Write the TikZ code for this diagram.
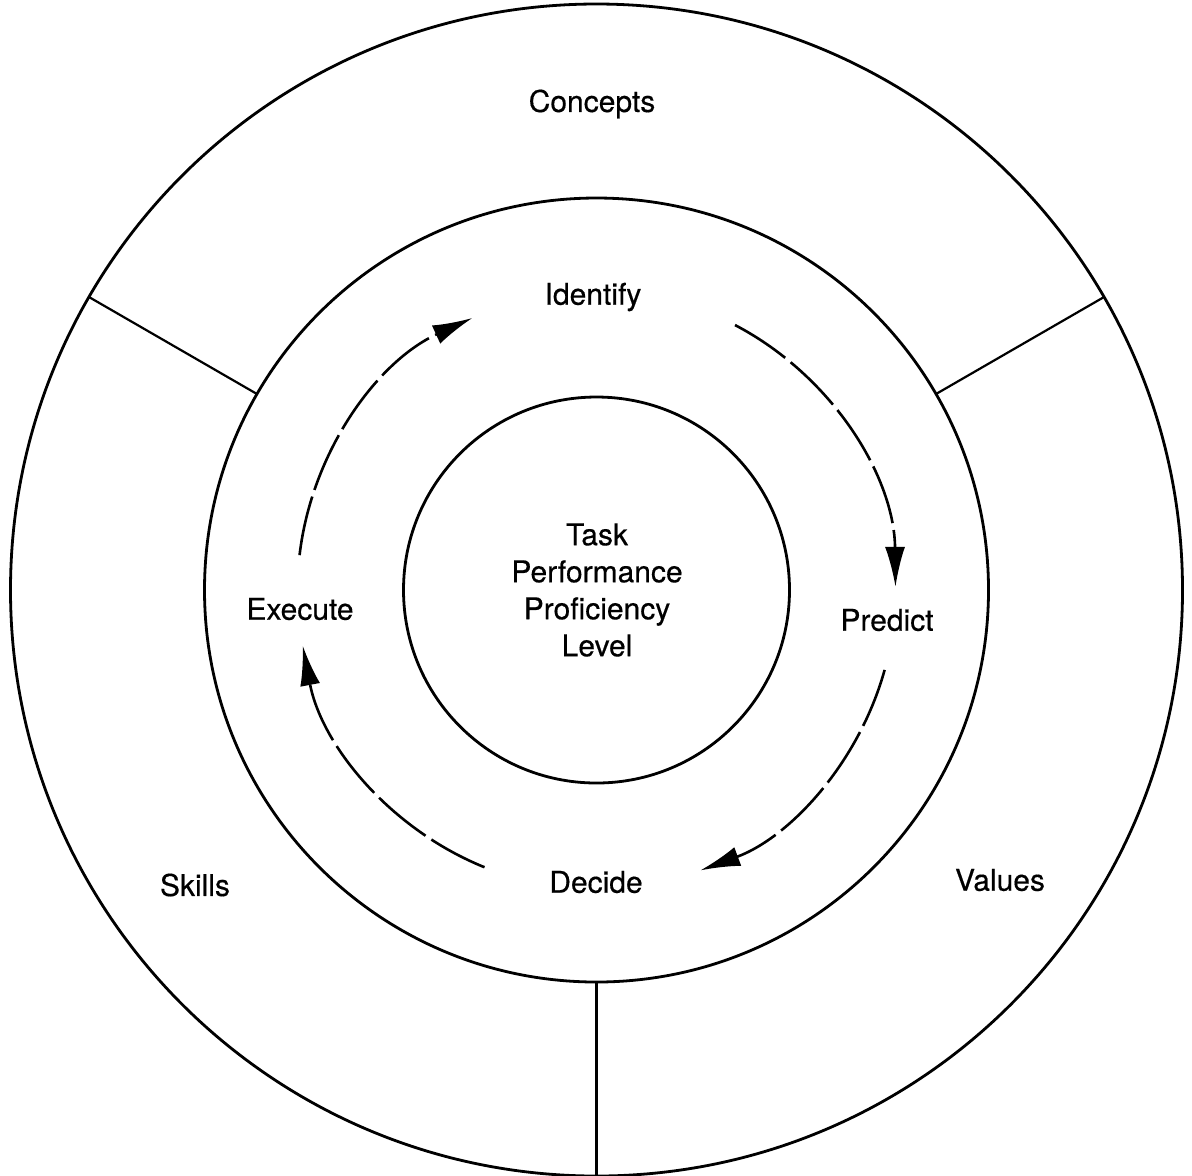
\documentclass[tikz,border=0pt]{standalone}
\usepackage{fontspec}
\setmainfont{TeX Gyre Heros}[FakeBold=0.4]
\usetikzlibrary{arrows.meta,calc}
\begin{document}
\begin{tikzpicture}[x=0.5pt,y=-0.5pt,
  ring/.style={circle,draw,line width=1.4pt,inner sep=0pt,outer sep=0pt},
  divider/.style={line width=1.1pt},
  flow/.style={line width=1.3pt,dash pattern=on 30pt off 3.5pt,-{Latex[length=20pt,width=10pt]}},
  lbl/.style={font=\fontsize{15}{18.5}\selectfont,inner sep=0pt,align=center}]
\useasboundingbox (0,0) rectangle (1192,1175);
\coordinate (c) at (596.5,590);
\node[ring,minimum size=586pt] (outer) at (c) {};
\node[ring,minimum size=392pt] (middle) at (c) {};
\node[ring,minimum size=193pt] (inner) at (c) {};
% dividers between outer sectors
\draw[divider] (middle.150) -- (outer.150);
\draw[divider] (middle.30) -- (outer.30);
\draw[divider] (middle.270) -- (outer.270);
% labels
\node[lbl] (concepts) at (592,104) {Concepts};
\node[lbl] (skills) at (195,885) {Skills};
\node[lbl] (values) at (1000,880) {Values};
\node[lbl] (identify) at (593,297) {Identify};
\node[lbl] (predict) at (887,620) {Predict};
\node[lbl] (decide) at (596,882) {Decide};
\node[lbl] (execute) at (300,609) {Execute};
\node[lbl] (task) at (597,590) {Task\\Performance\\Proficiency\\Level};
% cycle arrows
\draw[flow] ($(c)+(62.4:149.5pt)$) arc[start angle=62.4,end angle=0.6,radius=149.5pt];
\draw[flow] ($(c)+(-15.5:149.5pt)$) arc[start angle=-15.5,end angle=-69.7,radius=149.5pt];
\draw[flow] ($(c)+(-112:149.5pt)$) arc[start angle=-112,end angle=-169.3,radius=149.5pt];
\draw[flow] ($(c)+(173.3:149.5pt)$) arc[start angle=173.3,end angle=114.5,radius=149.5pt];
\end{tikzpicture}
\end{document}
